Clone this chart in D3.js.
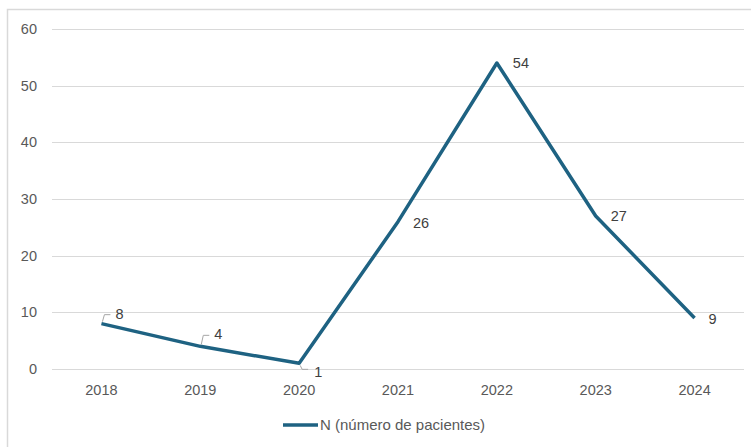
<!DOCTYPE html>
<html>
<head>
<meta charset="utf-8">
<script src="https://cdn.jsdelivr.net/npm/d3@7"></script>
<style>
  body { margin: 0; background: #fff; }
  svg { display: block; font-family: "Liberation Sans", Arial, sans-serif; }
</style>
</head>
<body>
<div id="chart"></div>
<script>
// data
var years = ["2018", "2019", "2020", "2021", "2022", "2023", "2024"];
var pacientes = [8, 4, 1, 26, 54, 27, 9];
var yTicks = [0, 10, 20, 30, 40, 50, 60];
var seriesName = "N (número de pacientes)";

var w = 751, h = 447;
var plotLeft = 52, plotRight = 744, plotTop = 29, plotBottom = 369;
var lineColor = "#1e6282";
var fontSize = "14.5px";

var svg = d3.select("#chart").append("svg")
    .attr("width", w)
    .attr("height", h);

// chart frame
svg.append("path")
    .attr("d", "M7.5," + h + "V9.5H" + w)
    .attr("fill", "none")
    .attr("stroke", "#d9d9d9")
    .attr("stroke-width", 1.5);

var x = d3.scaleBand().domain(years).range([plotLeft, plotRight]);
var y = d3.scaleLinear().domain([0, 60]).range([plotBottom, plotTop]);

// gridlines
svg.append("g").selectAll("line")
    .data(yTicks)
    .enter()
    .append("line")
    .attr("x1", plotLeft)
    .attr("x2", plotRight)
    .attr("y1", function(d) { return Math.round(y(d)) + 0.5; })
    .attr("y2", function(d) { return Math.round(y(d)) + 0.5; })
    .attr("stroke", "#d9d9d9")
    .attr("stroke-width", 1.2);

// y labels
svg.append("g").selectAll("text")
    .data(yTicks)
    .enter()
    .append("text")
    .attr("x", 37)
    .attr("y", function(d) { return y(d); })
    .attr("dy", "0.35em")
    .attr("text-anchor", "end")
    .attr("font-size", fontSize)
    .attr("fill", "#595959")
    .text(function(d) { return d; });

// x labels
svg.append("g").selectAll("text")
    .data(years)
    .enter()
    .append("text")
    .attr("x", function(d) { return x(d) + x.bandwidth() / 2; })
    .attr("y", 390)
    .attr("dy", "0.35em")
    .attr("text-anchor", "middle")
    .attr("font-size", fontSize)
    .attr("fill", "#595959")
    .text(function(d) { return d; });

var px = function(i) { return x(years[i]) + x.bandwidth() / 2; };

var line = d3.line()
    .x(function(d, i) { return px(i); })
    .y(function(d) { return y(d); });

svg.append("path")
    .datum(pacientes)
    .attr("d", line)
    .attr("fill", "none")
    .attr("stroke", lineColor)
    .attr("stroke-width", 3.5)
    .attr("stroke-linejoin", "round");

// data labels: offset from the point (first three have leader lines)
var labelDx = [14, 14, 15, 15, 16, 15, 14];
var labelDy = [-10, -12, 9, 1, 0, 0, 1];

svg.append("g").selectAll("text")
    .data(pacientes)
    .enter()
    .append("text")
    .attr("x", function(d, i) { return px(i) + labelDx[i]; })
    .attr("y", function(d, i) { return y(d) + labelDy[i]; })
    .attr("dy", "0.35em")
    .attr("font-size", fontSize)
    .attr("fill", "#404040")
    .text(function(d) { return d; });

// leader lines for the small values
svg.append("g").selectAll("path")
    .data(pacientes.slice(0, 3))
    .enter()
    .append("path")
    .attr("d", function(d, i) {
        var x0 = px(i) + 1, y0 = y(d), ly = y0 + labelDy[i];
        var down = labelDy[i] > 0;
        var yEnd = down ? ly - 3 : ly + 1;
        return "M" + x0 + "," + (y0 + (down ? 2 : -2)) + "L" + (x0 + 2) + "," + yEnd + "H" + (x0 + 8);
    })
    .attr("fill", "none")
    .attr("stroke", "#a6a6a6")
    .attr("stroke-width", 1);

// legend
svg.append("line")
    .attr("x1", 283)
    .attr("x2", 318)
    .attr("y1", 425)
    .attr("y2", 425)
    .attr("stroke", lineColor)
    .attr("stroke-width", 3.5);

svg.append("text")
    .attr("x", 320)
    .attr("y", 425)
    .attr("dy", "0.35em")
    .attr("font-size", "15px")
    .attr("fill", "#595959")
    .text(seriesName);
</script>
</body>
</html>
